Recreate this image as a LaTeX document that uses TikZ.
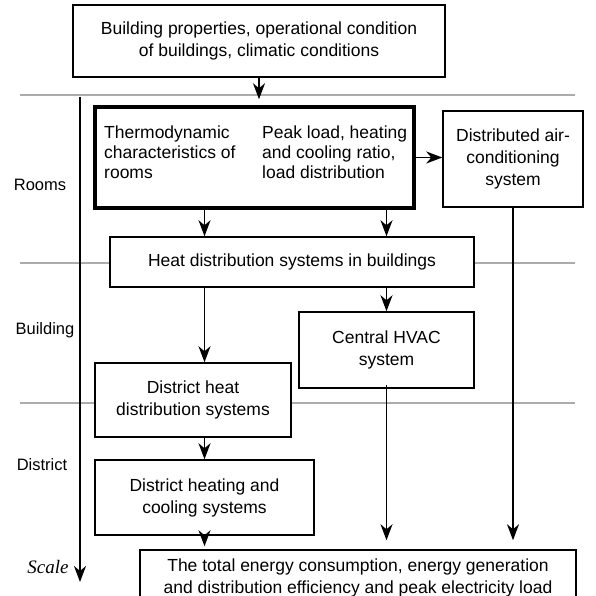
\documentclass[tikz,border=0pt]{standalone}
\usepackage{fontspec}
\setmainfont{Liberation Sans}
\newfontfamily\scalefont{Liberation Serif}
\usetikzlibrary{arrows.meta,calc}
\begin{document}
\begin{tikzpicture}[x=1pt,y=-1pt,
  box/.style={draw,line width=1.5pt,fill=white,align=center,inner sep=0pt,font=\fontsize{17.5}{22}\selectfont},
  arr/.style={line width=1.6pt,-{Stealth[length=16pt,width=12pt,inset=5pt]}},
  sep/.style={draw=gray!65,line width=1.5pt},
  lbl/.style={font=\fontsize{16.5}{18}\selectfont},
  txt/.style={align=left,anchor=west,inner sep=0pt,font=\fontsize{17.5}{20}\selectfont}]
\clip (0,0) rectangle (596,596);
\fill[white] (0,0) rectangle (596,596);
% separators
\coordinate (g1a) at (20,95); \coordinate (g1b) at (575,95);
\coordinate (g2a) at (20,263); \coordinate (g2b) at (575,263);
\coordinate (g3a) at (20,403); \coordinate (g3b) at (575,403);
\draw[sep] (g1a) -- (g1b);
\draw[sep] (g2a) -- (g2b);
\draw[sep] (g3a) -- (g3b);
% scale arrow
\coordinate (s1) at (80,97); \coordinate (s2) at (80,582);
\draw[arr] (s1) -- (s2);
% boxes
\node[box,minimum width=372pt,minimum height=72pt] (top) at (259,41) {Building properties, operational condition\\of buildings, climatic conditions};
\node[box,line width=3.5pt,minimum width=319pt,minimum height=101pt] (heavy) at (254.5,157.5) {};
\node[txt] (tl) at (104,152) {Thermodynamic\\characteristics of\\rooms};
\node[txt] (tr) at (262,152) {Peak load, heating\\and cooling ratio,\\load distribution};
\node[box,minimum width=140pt,minimum height=96pt] (dist) at (513,159) {Distributed air-\\conditioning\\system};
\node[box,minimum width=364pt,minimum height=50pt] (heat) at (292,262) {Heat distribution systems in buildings};
\node[box,minimum width=175pt,minimum height=76pt] (hvac) at (386.5,350) {Central HVAC\\system};
\node[box,minimum width=196pt,minimum height=74pt] (dhd) at (193,400) {District heat\\distribution systems};
\node[box,minimum width=219pt,minimum height=75pt] (dhc) at (204.5,497.5) {District heating and\\cooling systems};
\node[box,minimum width=436pt,minimum height=56pt] (total) at (358,578) {The total energy consumption, energy generation\\and distribution efficiency and peak electricity load};
% labels
\node[lbl] (lr) at (40,185) {Rooms};
\node[lbl] (lb) at (45,330) {Building};
\node[lbl] (ld) at (42,465) {District};
\node[font=\scalefont\itshape\fontsize{19}{20}\selectfont] (ls) at (48,567) {Scale};
% connectors
\draw[arr,shorten >=6pt] (top.south) -- (top.south |- heavy.north);
\draw[arr] (heavy.east) -- (heavy.east -| dist.west);
\draw[arr] (heavy.south -| dhc.north) -- (heat.north -| dhc.north);
\draw[arr] (heavy.south -| hvac.north) -- (heat.north -| hvac.north);
\draw[arr] (heat.south -| dhc.north) -- (dhd.north -| dhc.north);
\draw[arr] (heat.south -| hvac.north) -- (hvac.north);
\draw[arr] (dhd.south -| dhc.north) -- (dhc.north);
\draw[arr,shorten >=3pt] (dhc.south) -- (total.north -| dhc.south);
\draw[arr,shorten >=9pt] ([yshift=4pt]hvac.south) -- (total.north -| hvac.south);
\draw[arr,shorten >=9pt] (dist.south) -- (total.north -| dist.south);
\end{tikzpicture}
\end{document}
